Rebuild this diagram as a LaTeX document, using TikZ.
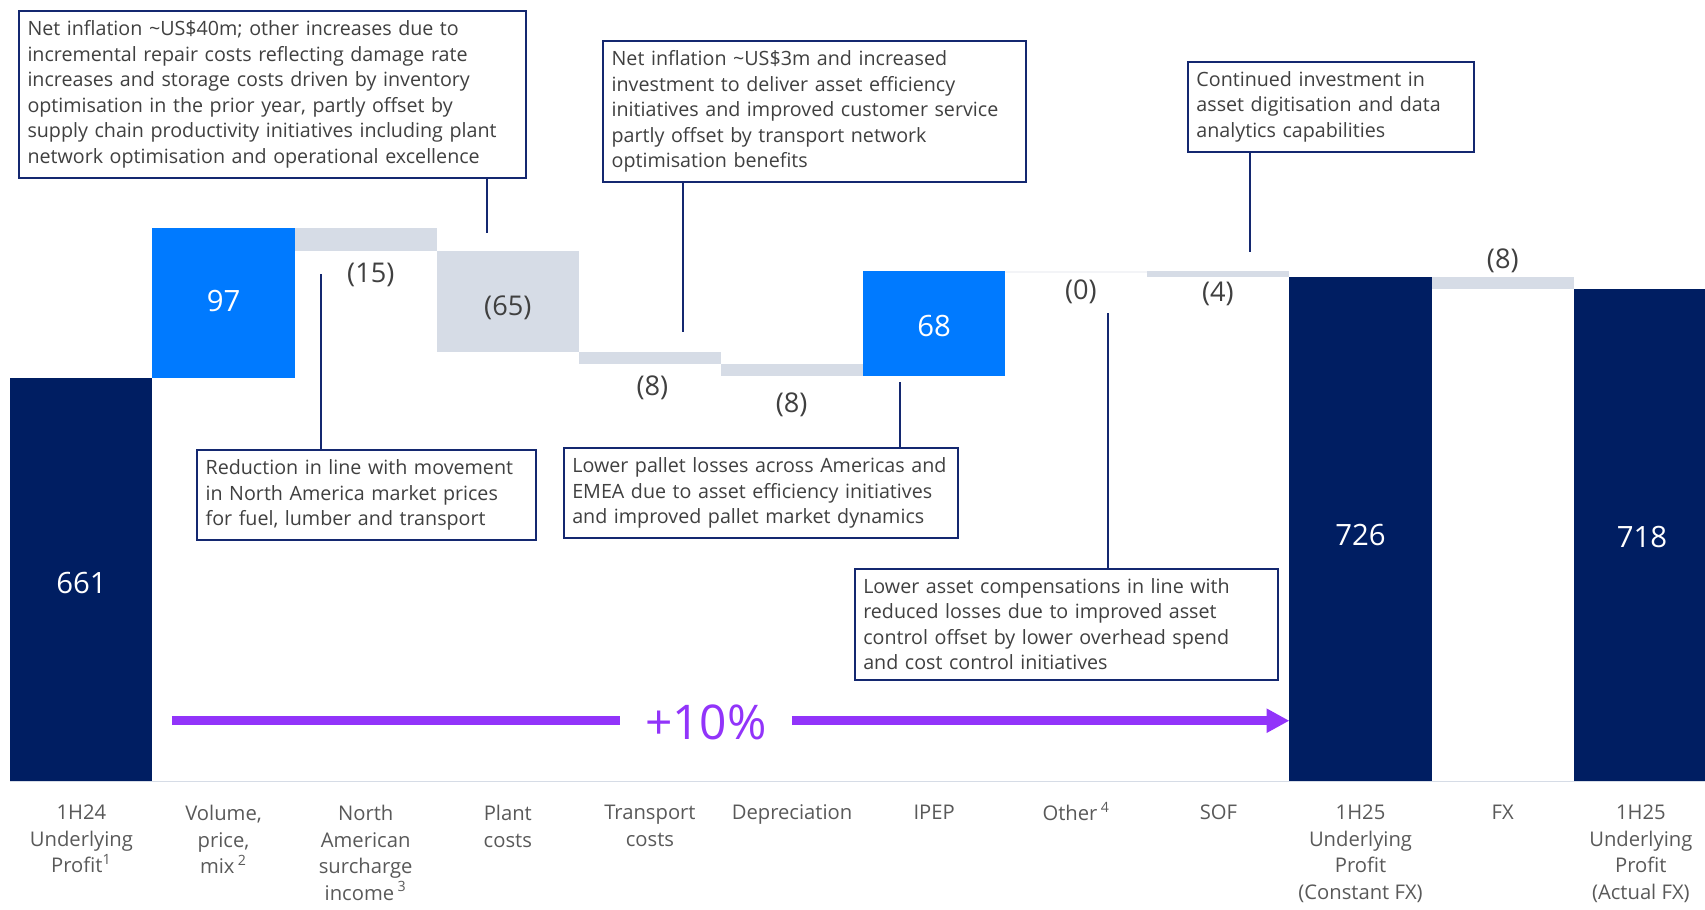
\documentclass[tikz,border=0pt]{standalone}
\usepackage{fontspec}
\setmainfont{Open Sans}
\usetikzlibrary{arrows.meta}

\definecolor{barnavy}{RGB}{0,30,98}
\definecolor{barblue}{RGB}{0,122,255}
\definecolor{bargrey}{RGB}{214,220,230}
\definecolor{barfaint}{RGB}{243,244,247}
\definecolor{calloutline}{RGB}{20,40,112}
\definecolor{notetext}{RGB}{64,64,64}
\definecolor{cattext}{RGB}{89,89,89}
\definecolor{growviolet}{RGB}{146,52,250}

\tikzset{
  callout/.style={draw=calloutline, line width=0.9pt, fill=white, text=notetext,
    anchor=north west, align=left, inner xsep=4pt, inner ysep=4.5pt,
    font=\fontsize{9.05}{11.7}\selectfont},
  leader/.style={draw=calloutline, line width=0.9pt},
  delta/.style={text=notetext, font=\fontsize{12.5}{15}\selectfont},
  total/.style={text=white, font=\fontsize{13.5}{16}\selectfont},
  category/.style={anchor=north, align=center, inner sep=0pt, text=cattext,
    font=\fontsize{9.3}{12.2}\selectfont},
}

\begin{document}
\begin{tikzpicture}[x=0.5pt, y=-0.5pt]
\useasboundingbox (0,0) rectangle (1568,836);

% bars
\fill[barnavy] (9.5,347.3) rectangle (140.2,718);
\fill[barblue] (140.2,210) rectangle (270.9,347.3);
\fill[bargrey] (270.9,210) rectangle (401.6,230.5);
\fill[bargrey] (401.6,230.5) rectangle (532.3,323.4);
\fill[bargrey] (532.3,323.4) rectangle (663,334.8);
\fill[bargrey] (663,334.8) rectangle (793.7,345.8);
\fill[barblue] (793.7,249.2) rectangle (924.4,345.8);
\fill[barfaint] (924.4,249.2) rectangle (1055.1,251.2);
\fill[bargrey] (1055.1,249.2) rectangle (1185.8,255);
\fill[barnavy] (1185.8,255) rectangle (1316.5,718);
\fill[bargrey] (1316.5,255) rectangle (1447.2,266);
\fill[barnavy] (1447.2,266) rectangle (1568,718);
\draw[bargrey, line width=0.6pt] (9.5,718.6) -- (1568,718.6);

% values
\node[total] (v661) at (75,536.4) {661};
\node[total] (v97) at (205.6,277) {97};
\node[delta] (v15) at (341,253) {(15)};
\node[delta] (v65) at (467,283) {(65)};
\node[delta] (v8t) at (600,357) {(8)};
\node[delta] (v8d) at (728,372.5) {(8)};
\node[total] (v68) at (859,300) {68};
\node[delta] (v0) at (994,268) {(0)};
\node[delta] (v4) at (1120,270) {(4)};
\node[total] (v726) at (1251.2,492) {726};
\node[delta] (v8fx) at (1382,240) {(8)};
\node[total] (v718) at (1510,494) {718};

% callouts
\node[callout, text width=225pt] (noteplant) at (16.4,9.2)
  {Net inflation \textasciitilde US\$40m; other increases due to\\
   incremental repair costs reflecting damage rate\\
   increases and storage costs driven by inventory\\
   optimisation in the prior year, partly offset by\\
   supply chain productivity initiatives including plant\\
   network optimisation and operational excellence};
\node[callout, text width=186.5pt] (notetransport) at (553.6,36.8)
  {Net inflation \textasciitilde US\$3m and increased\\
   investment to deliver asset efficiency\\
   initiatives and improved customer service\\
   partly offset by transport network\\
   optimisation benefits};
\node[callout, text width=123.8pt] (notesof) at (1091.4,55.8)
  {Continued investment in\\
   asset digitisation and data\\
   analytics capabilities};
\node[callout, text width=147.7pt] (notesurcharge) at (180.2,413)
  {Reduction in line with movement\\
   in North America market prices\\
   for fuel, lumber and transport};
\node[callout, text width=173.3pt] (noteipep) at (517.4,411)
  {Lower pallet losses across Americas and\\
   EMEA due to asset efficiency initiatives\\
   and improved pallet market dynamics};
\node[callout, text width=186.5pt] (noteother) at (785,522)
  {Lower asset compensations in line with\\
   reduced losses due to improved asset\\
   control offset by lower overhead spend\\
   and cost control initiatives};

% leaders
\coordinate (plantend) at (448.3,214.4);
\coordinate (transportend) at (628,305);
\coordinate (sofend) at (1149.7,231.4);
\coordinate (surchargeend) at (295,252);
\coordinate (ipepend) at (828,351.6);
\coordinate (otherend) at (1019,288);
\draw[leader] (noteplant.south -| plantend) -- (plantend);
\draw[leader] (notetransport.south -| transportend) -- (transportend);
\draw[leader] (notesof.south -| sofend) -- (sofend);
\draw[leader] (notesurcharge.north -| surchargeend) -- (surchargeend);
\draw[leader] (noteipep.north -| ipepend) -- (ipepend);
\draw[leader] (noteother.north -| otherend) -- (otherend);

% growth arrow
\coordinate (growstart) at (158,662.8);
\coordinate (growend) at (1185.8,662.8);
\node[text=growviolet, font=\fontsize{22}{26}\selectfont, inner xsep=11.5pt] (growth) at (649.1,664) {+10\%};
\draw[growviolet, line width=4pt] (growstart) -- (growth.west |- growstart);
\draw[growviolet, line width=4pt, -{Triangle[length=10.5pt,width=10.5pt]}] (growth.east |- growend) -- (growend);

% categories
\node[category] (c1) at (74.9,740) {1H24\\Underlying\\Profit\smash{\textsuperscript{1}}};
\node[category] (c2) at (205.6,740) {Volume,\\price,\\mix\,\smash{\textsuperscript{2}}};
\node[category] (c3) at (336.3,740) {North\\American\\surcharge\\income\,\smash{\textsuperscript{3}}};
\node[category] (c4) at (467,740) {Plant\\costs};
\node[category] (c5) at (597.7,740) {Transport\\costs};
\node[category] (c6) at (728.4,740) {Depreciation};
\node[category] (c7) at (859.1,740) {IPEP};
\node[category] (c8) at (989.8,740) {Other\,\smash{\textsuperscript{4}}};
\node[category] (c9) at (1120.5,740) {SOF};
\node[category] (c10) at (1251.2,740) {1H25\\Underlying\\Profit\\(Constant FX)};
\node[category] (c11) at (1381.9,740) {FX};
\node[category] (c12) at (1509,740) {1H25\\Underlying\\Profit\\(Actual FX)};
\end{tikzpicture}
\end{document}
